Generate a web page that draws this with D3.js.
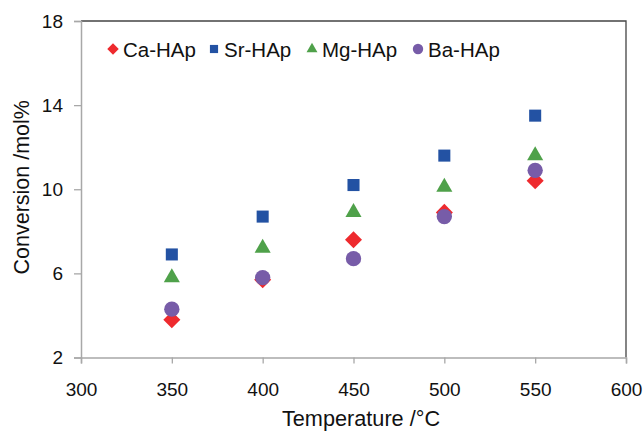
<!DOCTYPE html>
<html>
<head>
<meta charset="utf-8">
<script src="https://cdn.jsdelivr.net/npm/d3@7"></script>
<style>
  body { margin: 0; background: #fff; }
  svg text { font-family: "Liberation Sans", Arial, sans-serif; fill: #111; }
</style>
</head>
<body>
<svg id="stage" width="643" height="432"></svg>
<script>
var temps = [350, 400, 450, 500, 550],
    caHAp = [3.8, 5.7, 7.6, 8.9, 10.4],
    srHAp = [6.9, 8.7, 10.2, 11.6, 13.5],
    mgHAp = [5.8, 7.2, 8.9, 10.1, 11.6],
    baHAp = [4.3, 5.8, 6.7, 8.7, 10.9],
    xTicks = [300, 350, 400, 450, 500, 550, 600],
    yTicks = [2, 6, 10, 14, 18];

var series = [
  { name: 'Ca-HAp', values: caHAp, color: '#ee2a2e', shape: d3.symbolDiamond2 },
  { name: 'Sr-HAp', values: srHAp, color: '#2352a3', shape: d3.symbolSquare2 },
  { name: 'Mg-HAp', values: mgHAp, color: '#4fa14a', shape: d3.symbolTriangle2 },
  { name: 'Ba-HAp', values: baHAp, color: '#775ca8', shape: d3.symbolCircle }
];

var svg = d3.select('#stage'),
    LEFT = 81, RIGHT = 626, TOP = 21, BOTTOM = 357.5;

var x = d3.scaleLinear().domain([300, 600]).range([LEFT, RIGHT]),
    y = d3.scaleLinear().domain([2, 18]).range([BOTTOM, TOP]);

// frame: top and right dark
svg.append('path')
  .attr('d', 'M' + LEFT + ',' + TOP + 'H' + RIGHT + 'V' + BOTTOM)
  .attr('fill', 'none')
  .attr('stroke', '#444')
  .attr('stroke-width', 1.3);

var xAxis = svg.append('g')
  .attr('transform', 'translate(0,' + BOTTOM + ')')
  .call(d3.axisBottom(x).tickValues(xTicks).tickSize(6).tickPadding(19).tickFormat(d3.format('d')));

var yAxis = svg.append('g')
  .attr('transform', 'translate(' + LEFT + ',0)')
  .call(d3.axisLeft(y).tickValues(yTicks).tickSize(7).tickPadding(11).tickFormat(d3.format('d')));

[xAxis, yAxis].forEach(function (g) {
  g.select('.domain').attr('stroke', '#a8a8a8').attr('stroke-width', 1.5);
  g.selectAll('.tick line').attr('stroke', '#a8a8a8').attr('stroke-width', 1.3);
  g.selectAll('.tick text')
    .attr('font-size', 19)
    .attr('font-family', '"Liberation Sans", Arial, sans-serif')
    .attr('fill', '#111');
});

svg.append('text')
  .attr('x', 361)
  .attr('y', 426)
  .attr('text-anchor', 'middle')
  .attr('font-size', 21.7)
  .text('Temperature /°C');

svg.append('text')
  .attr('transform', 'translate(29,' + ((TOP + BOTTOM) / 2 - 2) + ') rotate(-90)')
  .attr('text-anchor', 'middle')
  .attr('font-size', 21.5)
  .text('Conversion /mol%');

series.forEach(function (s) {
  svg.append('g').selectAll('path')
    .data(s.values)
    .enter()
    .append('path')
      .attr('d', d3.symbol().type(s.shape).size(185))
      .attr('transform', function (d, i) {
        return 'translate(' + [x(temps[i]), y(d)] + ')';
      })
      .attr('fill', s.color);
});

// legend
var legendX = [113, 214, 312, 418];
var legend = svg.append('g').selectAll('g')
  .data(series)
  .enter()
  .append('g')
    .attr('transform', function (d, i) { return 'translate(' + legendX[i] + ',49)'; });

legend.append('path')
  .attr('d', function (d) { return d3.symbol().type(d.shape).size(85)(); })
  .attr('fill', function (d) { return d.color; });

legend.append('text')
  .attr('x', 10)
  .attr('y', 7.5)
  .attr('font-size', 20.5)
  .text(function (d) { return d.name; });
</script>
</body>
</html>
